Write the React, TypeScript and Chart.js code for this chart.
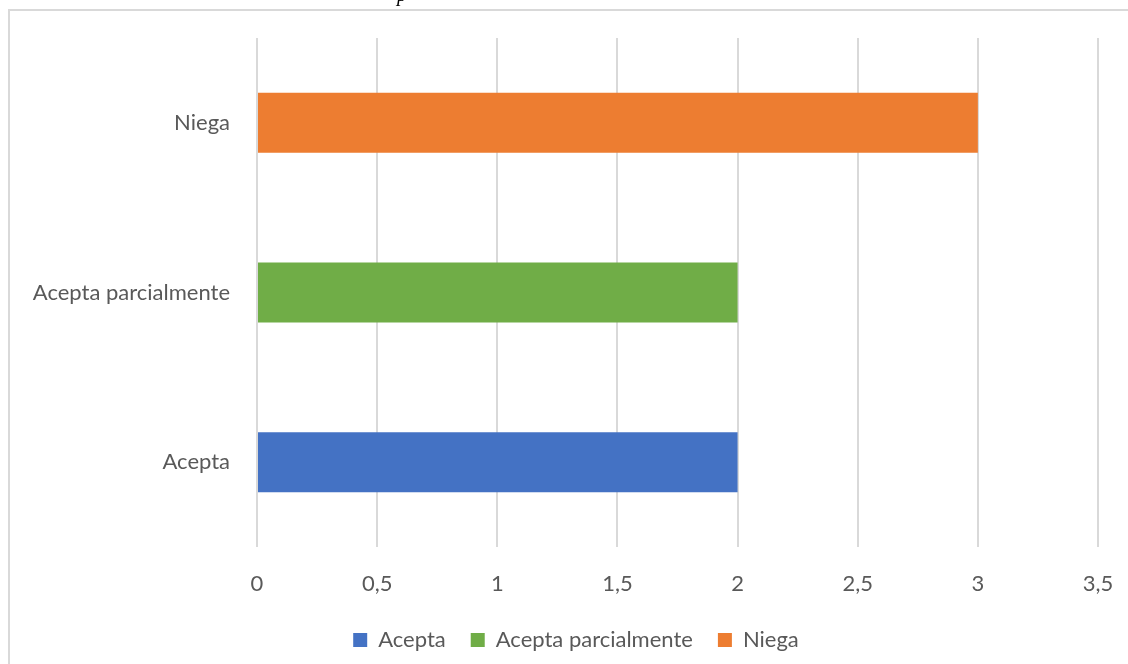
import React, { useEffect, useRef } from "react";
import { Chart, registerables } from "chart.js";

Chart.register(...registerables);

const categories: string[] = ["Acepta", "Acepta parcialmente", "Niega"];
const values: number[] = [2, 2, 3];
const colors: string[] = ["#4472C4", "#70AD47", "#ED7D31"];
const xTickMin = 0;
const xTickMax = 3.5;
const xTickStep = 0.5;

const W = 1128;
const H = 661;
const FONT = "Lato";
const TEXT = "#595959";
const GRID = "#d9d9d9";

const legendShift = {
  id: "legendShift",
  afterLayout(chart: any) {
    if (chart.legend) chart.legend.left += 54;
  },
};

export default function App() {
  const ref = useRef<HTMLCanvasElement | null>(null);

  useEffect(() => {
    if (!ref.current) return;
    const chart = new Chart(ref.current, {
      type: "bar",
      data: {
        labels: categories,
        datasets: [
          {
            data: values,
            backgroundColor: colors,
            borderWidth: 0,
            categoryPercentage: 1,
            barPercentage: 0.354,
          },
        ],
      },
      plugins: [legendShift],
      options: {
        indexAxis: "y",
        animation: false,
        responsive: false,
        devicePixelRatio: 1,
        layout: { padding: { left: 0, right: 30, top: 38, bottom: 0 } },
        plugins: {
          tooltip: { enabled: false },
          legend: {
            position: "bottom",
            labels: {
              font: { family: FONT, size: 22 },
              color: TEXT,
              boxWidth: 14,
              boxHeight: 14,
              padding: 25,
              generateLabels: () =>
                categories.map((c, i) => ({
                  text: c,
                  fillStyle: colors[i],
                  strokeStyle: colors[i],
                  lineWidth: 0,
                  hidden: false,
                  index: i,
                  datasetIndex: 0,
                  fontColor: TEXT,
                })),
            },
            onClick: () => {},
          },
        },
        scales: {
          x: {
            type: "linear",
            min: xTickMin,
            max: xTickMax,
            ticks: {
              stepSize: xTickStep,
              color: TEXT,
              font: { family: FONT, size: 22 },
              padding: 24,
              callback: (v: any) => String(v).replace(".", ","),
            },
            grid: { color: GRID, lineWidth: 2, drawTicks: false },
            border: { display: false },
            afterFit: (scale: any) => {
              const lg = scale.chart.legend;
              const lh = lg && lg.height ? lg.height : 57;
              scale.height = H - lh - 547;
              scale.paddingLeft = 0;
              scale.paddingRight = 0;
            },
          },
          y: {
            type: "category",
            reverse: true,
            ticks: {
              color: TEXT,
              font: { family: FONT, size: 22 },
              padding: 27,
            },
            grid: { display: false, drawTicks: false },
            border: { display: false },
            afterFit: (scale: any) => {
              scale.width = 257;
              scale.paddingTop = 0;
              scale.paddingBottom = 0;
            },
          },
        },
      },
    });
    return () => chart.destroy();
  }, []);

  return (
    <div
      style={{
        position: "fixed",
        left: 0,
        top: 0,
        width: 1128,
        height: 664,
        overflow: "hidden",
        background: "#fff",
      }}
    >
      <canvas
        ref={ref}
        width={W}
        height={H}
        style={{ position: "absolute", left: 0, top: 0, width: W, height: H }}
      />
      <div
        style={{
          position: "absolute",
          left: 8,
          top: 9,
          width: 1200,
          height: 800,
          borderLeft: "2px solid #d9d9d9",
          borderTop: "2px solid #d9d9d9",
          pointerEvents: "none",
        }}
      />
      <div
        style={{
          position: "absolute",
          left: 397,
          top: -16,
          fontFamily: "'Liberation Serif', serif",
          fontStyle: "italic",
          fontSize: 20,
          lineHeight: "20px",
          color: "#000",
        }}
      >
        p
      </div>
    </div>
  );
}
